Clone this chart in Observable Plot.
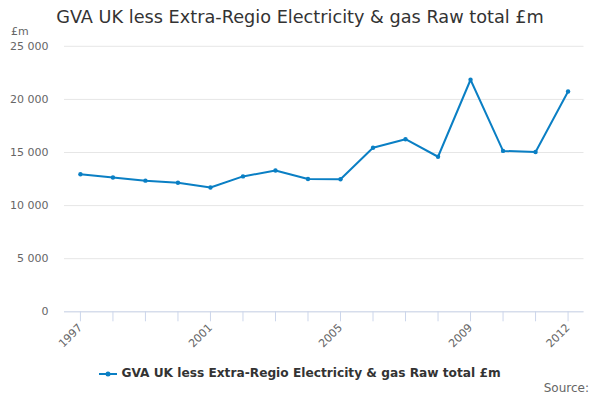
<!DOCTYPE html>
<html>
<head>
<meta charset="utf-8">
<script src="https://cdn.jsdelivr.net/npm/d3@7"></script>
<script src="https://cdn.jsdelivr.net/npm/@observablehq/plot@0.6"></script>
<style>
  html, body { margin: 0; padding: 0; background: #fff; }
  #wrap { position: relative; width: 600px; height: 400px; font-family: "DejaVu Sans", sans-serif; overflow: hidden; }
  #title { position: absolute; left: 0; top: 7px; width: 600px; text-align: center; font-size: 17.7px; color: #333; }
  #unit { position: absolute; left: 11px; top: 25px; font-size: 11px; color: #666; }
  #chart { position: absolute; left: 0; top: 24px; }
  #legend { position: absolute; left: 0; top: 366px; width: 600px; text-align: center; font-size: 12.2px; font-weight: bold; color: #333; }
  #legend svg { vertical-align: middle; margin-right: 4px; }
  #source { position: absolute; right: 11px; top: 381px; font-size: 12px; color: #666; }
</style>
</head>
<body>
<div id="wrap">
  <div id="title">GVA UK less Extra-Regio Electricity &amp; gas Raw total £m</div>
  <div id="unit">£m</div>
  <div id="chart"></div>
  <div id="legend"><svg width="18" height="10"><line x1="0" y1="5" x2="18" y2="5" stroke="#0a7fc4" stroke-width="2"/><circle cx="9" cy="5" r="2.5" fill="#0a7fc4"/></svg>GVA UK less Extra-Regio Electricity &amp; gas Raw total £m</div>
  <div id="source">Source:</div>
</div>
<script>
const years = [1997, 1998, 1999, 2000, 2001, 2002, 2003, 2004, 2005, 2006, 2007, 2008, 2009, 2010, 2011, 2012];
const values = [12950, 12650, 12350, 12150, 11700, 12750, 13300, 12500, 12480, 15450, 16250, 14600, 21850, 15150, 15050, 20750];
const labeledYears = [1997, 2001, 2005, 2009, 2012];
const yTicks = [0, 5000, 10000, 15000, 20000, 25000];
const color = "#0a7fc4";

const data = years.map((y, i) => ({year: y, value: values[i]}));
const fmt = d => d3.format(",")(d).replace(/,/g, " ");

const chart = Plot.plot({
  width: 600,
  height: 330,
  marginLeft: 64,
  marginRight: 16.5,
  marginTop: 21.8,
  marginBottom: 42.7,
  style: {fontFamily: "DejaVu Sans, sans-serif", fontSize: "11px", color: "#666", background: "transparent"},
  x: {type: "point", domain: years, padding: 0.49, round: false, label: null},
  y: {domain: [0, 25000], label: null},
  marks: [
    Plot.gridY(yTicks, {stroke: "#e6e6e6", strokeOpacity: 1}),
    Plot.axisY(yTicks, {tickSize: 0, tickPadding: 16, tickFormat: fmt, fill: "#666", label: null}),
    Plot.ruleY([0], {stroke: "#ccd6eb", strokeWidth: 1}),
    Plot.axisX(years, {tickSize: 10, stroke: "#ccd6eb", strokeOpacity: 1, tickFormat: d => labeledYears.includes(d) ? String(d) : "", tickRotate: -45, tickPadding: 4, fill: "#666", label: null}),
    Plot.line(data, {x: "year", y: "value", stroke: color, strokeWidth: 2}),
    Plot.dot(data, {x: "year", y: "value", fill: color, r: 2.2})
  ]
});
document.getElementById("chart").appendChild(chart);
</script>
</body>
</html>
